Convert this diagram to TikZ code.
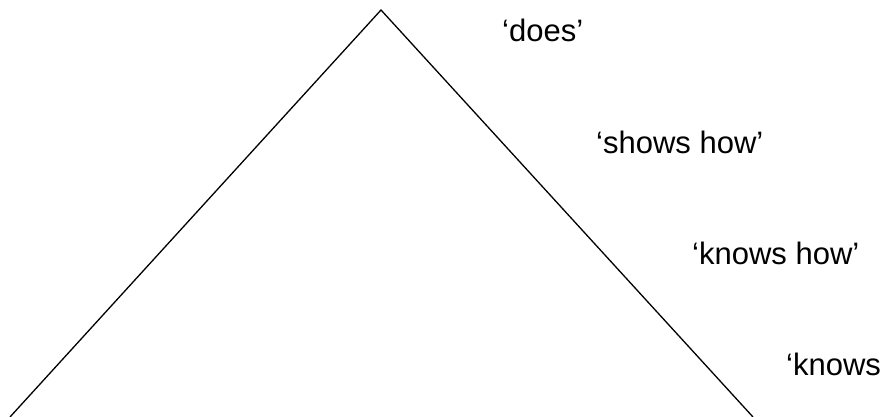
\documentclass[tikz,border=0pt]{standalone}
\usepackage{fontspec}
\setmainfont{Liberation Sans}
\usepackage{tikz}

\begin{document}
\begin{tikzpicture}[x=1pt, y=-1pt, level/.style={anchor=base west, inner sep=0pt, font=\fontsize{31}{37}\selectfont}]
	\useasboundingbox (0,0) rectangle (885,417);
	\clip (0,0) rectangle (885,417);
	\coordinate (apex) at (381,10);
	\coordinate (left) at (10,417);
	\coordinate (right) at (753,417);
	\draw [line width = 1.3pt] (left) -- (apex) -- (right);
	\node [level] (does) at (502,42) {`does'};
	\node [level] (shows) at (596,153) {`shows how'};
	\node [level] (knowshow) at (692,264) {`knows how'};
	\node [level] (knows) at (786,375) {`knows};
\end{tikzpicture}
\end{document}
